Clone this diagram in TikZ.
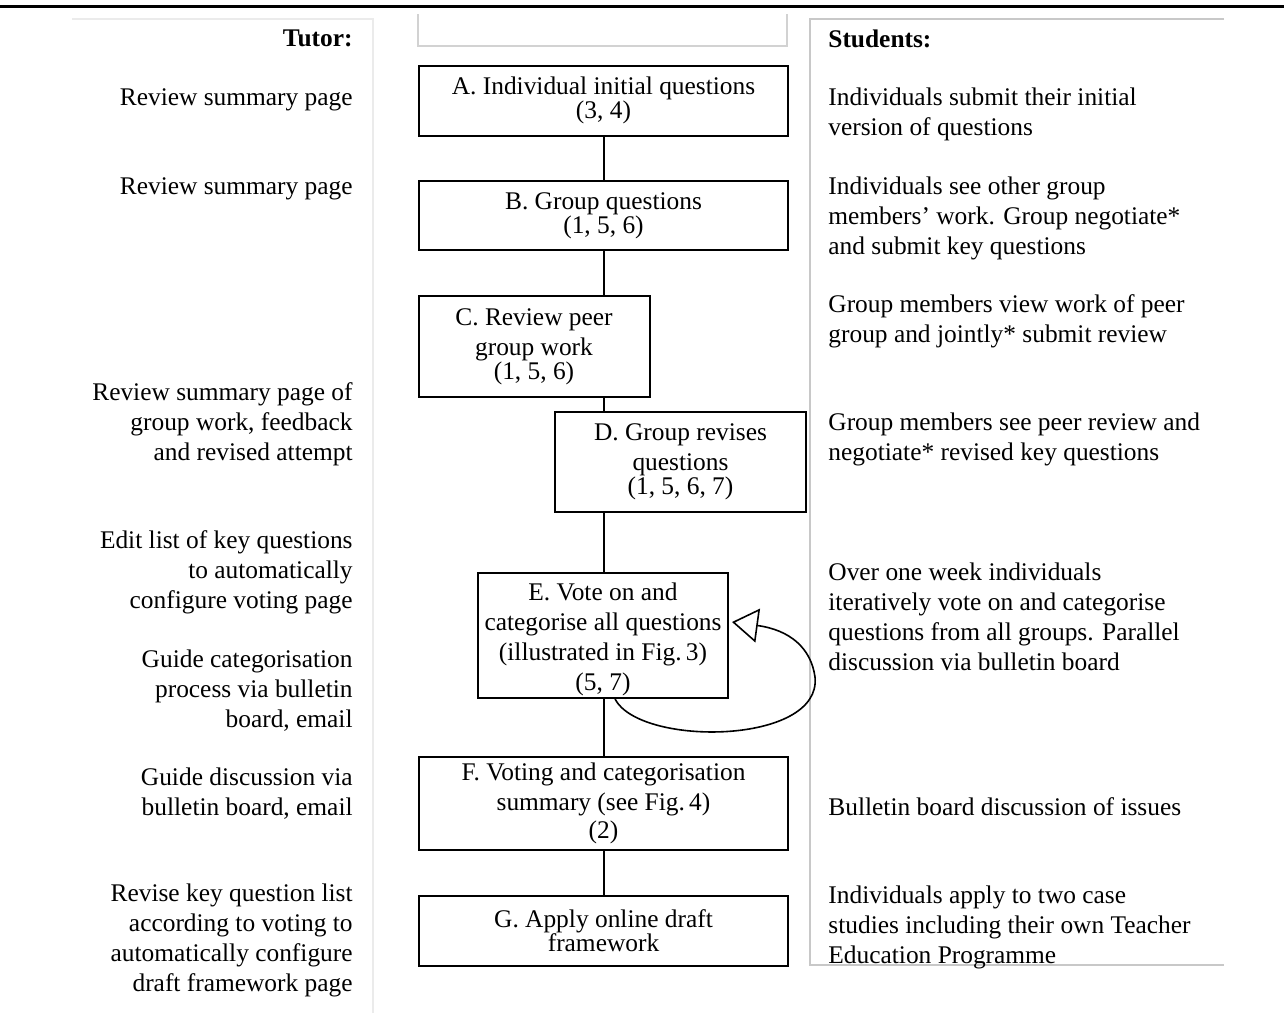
\documentclass[tikz,border=0pt]{standalone}
\usepackage{fontspec}
\setmainfont{Liberation Serif}
\usepackage{xcolor}
\usetikzlibrary{arrows.meta,positioning,calc}
\definecolor{TutorRule}{HTML}{EBEBEB}
\definecolor{StudRule}{HTML}{C8C8C8}
\definecolor{MidRule}{HTML}{D2D2D2}

\begin{document}
\begin{tikzpicture}[
	x=0.5pt, y=-0.5pt,
	font=\fontsize{12.7}{15}\selectfont,
	box/.style={draw, line width=1pt, align=center, inner sep=0pt},
	tutor/.style={anchor=east, align=right, inner sep=0pt},
	student/.style={anchor=west, align=left, inner sep=0pt},
	link/.style={line width=1pt},
	cyclearrow/.style={-{Triangle[open, length=13pt, width=17pt]}, line width=0.8pt}
]
\useasboundingbox (0,0) rectangle (1284,1013);
% page rule and column frames
\draw[line width=1.5pt] (0,6) -- (1284,6);
\draw[TutorRule, line width=0.6pt] (72,19) -- (373,19) -- (373,1013);
\draw[MidRule, line width=0.6pt] (418,14) -- (418,46) -- (787,46) -- (787,14);
\draw[StudRule, line width=0.6pt] (1224,19) -- (810,19) -- (810,965) -- (1224,965);

% activity boxes
\node[box, minimum width=184.5pt, minimum height=35pt] (A) at (603.5,100.5) {A. Individual initial questions\\[-3pt](3, 4)};
\node[box, minimum width=184.5pt, minimum height=34.5pt] (B) at (603.5,215.5) {B. Group questions\\[-3pt](1, 5, 6)};
\node[box, minimum width=115.5pt, minimum height=50.5pt] (C) at (534,346.5) {C. Review peer\\group work\\[-3pt](1, 5, 6)};
\node[box, minimum width=125.5pt, minimum height=50pt] (D) at (680.5,462) {D. Group revises\\questions\\[-3pt](1, 5, 6, 7)};
\node[box, minimum width=125pt, minimum height=62.5pt] (E) at (603,635.5) {\rule{0pt}{13pt}E. Vote on and\\categorise all questions\\(illustrated in Fig.\,3)\\(5, 7)};
\node[box, minimum width=184.5pt, minimum height=46.5pt] (F) at (603.5,803.5) {F. Voting and categorisation\\summary (see Fig.\,4)\\[-1pt](2)};
\node[box, minimum width=184.5pt, minimum height=35pt] (G) at (603.5,931) {G. Apply online draft\\[-3pt]framework};

\draw[link] (A.south) -- (B.north);
\draw[link] (B.south) -- (C.north -| B.south);
\draw[link] (C.south -| B.south) -- (D.north -| B.south);
\draw[link] (D.south -| B.south) -- (E.north -| B.south);
\draw[link] (E.south -| B.south) -- (F.north);
\draw[link] (F.south) -- (G.north);
\draw[cyclearrow] ([xshift=6pt]E.south) .. controls (640,747) and (822,745) .. (815,677)
	.. controls (811,648) and (790,630) .. ([xshift=1.5pt, yshift=6.75pt]E.east);

% tutor column
\node[tutor] (tutorhead) at (353,38.5) {\textbf{Tutor:}};
\node[tutor] (tA) at (353,100) {Review summary page};
\node[tutor] (tB) at (353,189) {Review summary page};
\node[tutor] (tD) at (353,424) {Review summary page of\\group work, feedback\\and revised attempt};
\node[tutor] (tE1) at (353,572) {Edit list of key questions\\to automatically\\configure voting page};
\node[tutor] (tE2) at (353,691) {Guide categorisation\\process via bulletin\\board, email};
\node[tutor] (tF) at (353,794) {Guide discussion via\\bulletin board, email};
\node[tutor] (tG) at (353,940) {Revise key question list\\according to voting to\\automatically configure\\draft framework page};

% student column
\node[student] (studhead) at (828,38.5) {\textbf{Students:}};
\node[student] (sA) at (828,114) {Individuals submit their initial\\version of questions};
\node[student] (sB) at (828,218) {Individuals see other group\\members’ work. Group negotiate*\\and submit key questions};
\node[student] (sC) at (828,321) {Group members view work of peer\\group and jointly* submit review};
\node[student] (sD) at (828,439) {Group members see peer review and\\negotiate* revised key questions};
\node[student] (sE) at (828,616.5) {Over one week individuals\\iteratively vote on and categorise\\questions from all groups. Parallel\\discussion via bulletin board};
\node[student] (sF) at (828,807) {Bulletin board discussion of issues};
\node[student] (sG) at (828,927) {Individuals apply to two case\\studies including their own Teacher\\Education Programme};
\end{tikzpicture}
\end{document}
